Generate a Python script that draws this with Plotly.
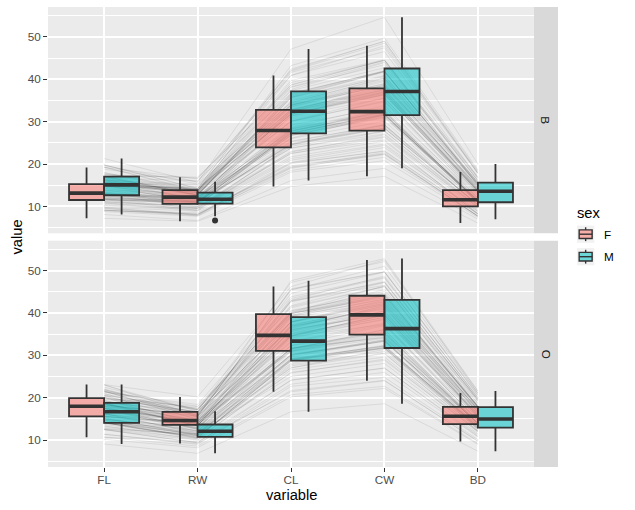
import numpy as np
import plotly.graph_objects as go

# ---------------- data (MASS::crabs, 200 crabs) ----------------
VARIABLES = ["FL", "RW", "CL", "CW", "BD"]
SPECIES_LEVELS = ["B", "O"]
SEX_LEVELS = ["F", "M"]

# row order: Blue males (50), Blue females (50), Orange males (50), Orange females (50)
SP = ["B"] * 100 + ["O"] * 100
SEX = (["M"] * 50 + ["F"] * 50) * 2

FL = [8.1, 8.8, 9.2, 9.6, 9.8, 10.8, 11.1, 11.6, 11.8, 11.8, 12.2, 12.3, 12.6, 12.8, 12.8, 12.9, 13.1, 13.1, 13.3, 13.9, 14.3, 14.6, 15.0, 15.0, 15.0, 15.2, 15.4, 15.7, 15.9, 16.1, 16.1, 16.2, 16.3, 16.4, 16.6, 16.8, 16.9, 17.1, 17.1, 17.2, 17.7, 17.9, 18.0, 18.8, 19.3, 19.3, 19.7, 19.8, 19.8, 21.3,
      7.2, 9.0, 9.1, 9.1, 9.5, 9.8, 10.1, 10.3, 10.4, 10.8, 11.0, 11.2, 11.5, 11.6, 11.6, 11.7, 11.9, 12.0, 12.0, 12.6, 12.8, 12.8, 12.8, 13.0, 13.1, 13.2, 13.4, 13.7, 13.9, 14.7, 14.9, 15.0, 15.0, 15.1, 15.1, 15.1, 15.2, 15.3, 15.4, 15.5, 15.6, 15.6, 15.7, 15.8, 16.2, 16.4, 16.7, 17.4, 17.5, 19.2,
      9.1, 10.2, 10.7, 11.4, 12.5, 12.5, 12.7, 13.2, 13.4, 13.7, 14.0, 14.1, 14.1, 14.1, 14.2, 14.2, 14.2, 14.6, 14.7, 15.1, 15.1, 15.4, 15.7, 16.2, 16.3, 17.1, 17.4, 17.5, 17.5, 17.8, 17.9, 18.0, 18.2, 18.4, 18.6, 18.6, 18.8, 18.8, 19.4, 19.4, 20.1, 20.6, 21.0, 21.5, 21.6, 21.6, 21.9, 22.1, 23.0, 23.1,
      10.7, 11.4, 12.5, 12.6, 12.9, 14.0, 14.0, 14.3, 14.7, 14.9, 15.0, 15.6, 15.6, 15.6, 15.7, 16.1, 16.1, 16.2, 16.7, 17.1, 17.5, 17.5, 17.5, 17.6, 18.0, 18.0, 18.3, 18.4, 18.4, 18.5, 18.6, 18.8, 18.9, 19.1, 19.1, 19.7, 19.9, 19.9, 20.0, 20.1, 20.3, 20.5, 20.6, 20.9, 21.3, 21.4, 21.7, 21.9, 22.5, 23.1]

RW = [6.7, 7.7, 7.8, 7.9, 8.0, 9.0, 9.9, 9.1, 9.6, 10.5, 10.8, 11.0, 10.0, 10.2, 10.9, 11.0, 10.6, 10.9, 11.1, 11.1, 11.6, 11.3, 10.9, 11.5, 11.9, 12.1, 11.8, 12.6, 12.7, 11.6, 12.8, 13.3, 12.7, 13.0, 13.5, 12.8, 13.2, 12.6, 12.7, 13.5, 13.6, 14.1, 13.7, 15.8, 13.5, 13.8, 15.3, 14.2, 14.3, 15.7,
      6.5, 8.5, 8.1, 8.2, 8.2, 8.9, 9.3, 9.5, 9.7, 9.5, 9.8, 10.0, 11.0, 11.0, 11.4, 10.6, 11.4, 10.7, 11.1, 12.2, 11.7, 12.2, 12.2, 11.4, 11.5, 12.2, 11.8, 12.5, 13.0, 12.5, 13.2, 13.8, 14.2, 13.3, 13.5, 13.8, 14.3, 14.2, 13.3, 13.8, 13.9, 14.7, 13.9, 15.0, 15.2, 14.0, 16.1, 16.9, 16.7, 16.5,
      6.9, 8.2, 8.6, 9.0, 9.4, 9.4, 10.4, 11.0, 10.1, 11.0, 11.5, 10.4, 10.5, 10.7, 10.6, 10.7, 11.3, 11.3, 11.1, 11.4, 11.5, 11.1, 12.2, 11.8, 11.6, 12.6, 12.8, 12.0, 12.7, 12.5, 12.9, 13.4, 13.7, 13.4, 13.4, 13.5, 13.4, 13.8, 14.1, 14.4, 13.7, 14.4, 15.0, 15.5, 15.4, 14.8, 15.7, 15.8, 16.8, 15.7,
      9.7, 9.2, 10.0, 11.5, 11.2, 11.9, 12.8, 12.2, 13.2, 13.0, 12.3, 13.5, 14.0, 14.1, 13.6, 13.6, 13.7, 14.0, 14.3, 14.5, 14.3, 14.4, 14.7, 14.0, 14.9, 16.3, 15.7, 15.5, 15.7, 14.6, 14.5, 15.2, 16.7, 16.0, 16.3, 16.7, 16.6, 17.9, 16.7, 17.2, 16.0, 17.5, 17.5, 16.5, 18.4, 18.0, 17.1, 17.2, 17.2, 20.2]

CL = [16.1, 18.1, 19.0, 20.1, 20.3, 23.0, 23.8, 24.5, 24.2, 25.2, 27.3, 26.8, 27.7, 27.2, 27.4, 26.8, 28.2, 28.3, 27.8, 29.2, 31.3, 31.9, 31.4, 32.4, 32.5, 32.3, 33.0, 35.8, 34.0, 33.8, 34.9, 36.0, 35.6, 35.7, 38.1, 36.2, 37.3, 36.4, 36.7, 37.6, 38.7, 39.7, 39.2, 42.1, 41.6, 40.9, 41.9, 43.2, 42.4, 47.1,
      14.7, 19.3, 18.5, 19.2, 19.6, 20.4, 20.9, 21.3, 21.7, 22.5, 22.5, 22.8, 24.7, 24.6, 23.7, 24.9, 26.0, 24.6, 25.4, 26.1, 27.1, 26.7, 27.9, 27.3, 27.6, 27.9, 28.4, 28.6, 30.0, 30.1, 30.1, 31.7, 32.8, 31.8, 31.9, 31.7, 33.9, 32.6, 32.4, 33.4, 32.8, 33.9, 33.6, 34.5, 34.5, 34.2, 36.6, 38.2, 38.6, 40.9,
      16.7, 20.2, 20.7, 22.7, 23.2, 24.2, 26.0, 27.1, 26.6, 27.5, 29.2, 28.9, 29.1, 28.7, 28.7, 27.8, 29.2, 29.9, 29.0, 30.2, 30.9, 30.2, 31.7, 32.3, 31.6, 35.0, 36.1, 34.4, 34.6, 36.0, 36.9, 36.7, 38.8, 37.9, 37.8, 36.9, 37.2, 39.2, 39.1, 39.8, 40.6, 42.8, 42.9, 45.5, 45.7, 43.4, 45.4, 44.6, 47.2, 47.6,
      21.4, 21.7, 24.1, 25.0, 25.8, 27.0, 28.8, 28.1, 29.6, 30.0, 30.1, 31.2, 31.6, 31.0, 31.0, 31.6, 31.4, 31.6, 32.3, 33.1, 34.5, 34.5, 33.3, 34.0, 34.7, 37.9, 35.1, 35.6, 36.5, 37.0, 34.7, 35.8, 36.3, 37.8, 37.9, 39.9, 39.4, 40.1, 40.4, 39.8, 39.4, 40.0, 41.5, 39.9, 43.8, 41.2, 41.7, 42.6, 43.0, 46.2]

CW = [19.0, 20.8, 22.4, 23.1, 23.0, 26.5, 27.1, 28.4, 27.8, 29.3, 31.6, 31.5, 31.7, 31.8, 31.5, 30.9, 32.3, 32.4, 32.3, 33.3, 35.5, 36.4, 36.4, 37.0, 37.2, 36.7, 37.5, 40.3, 38.9, 39.0, 40.7, 41.7, 40.9, 41.8, 43.4, 41.8, 42.7, 42.0, 41.9, 43.9, 44.5, 44.6, 44.4, 49.0, 47.4, 46.5, 48.5, 49.7, 48.9, 54.6,
      17.1, 22.7, 21.6, 22.2, 22.4, 23.9, 24.4, 24.7, 25.4, 26.3, 25.7, 26.9, 29.2, 28.5, 27.7, 28.5, 30.1, 28.9, 29.2, 31.6, 31.2, 31.1, 31.9, 31.8, 32.6, 32.1, 32.7, 33.8, 34.9, 34.7, 35.6, 36.9, 37.4, 36.3, 37.0, 36.6, 38.5, 38.3, 37.6, 38.7, 37.9, 39.5, 38.5, 40.3, 40.1, 39.8, 41.9, 44.1, 44.5, 47.9,
      18.6, 22.2, 22.7, 24.8, 26.0, 27.0, 28.8, 30.4, 29.6, 30.5, 32.2, 31.8, 31.6, 31.9, 31.7, 30.9, 32.2, 33.5, 32.1, 33.3, 34.0, 33.6, 34.2, 35.3, 34.2, 38.9, 39.5, 37.3, 38.4, 39.8, 40.9, 41.3, 42.7, 42.2, 41.9, 40.2, 41.1, 43.3, 43.2, 44.3, 44.5, 46.5, 47.2, 49.7, 49.7, 48.2, 51.0, 49.6, 52.1, 52.8,
      24.0, 24.1, 27.0, 28.1, 29.1, 31.4, 32.4, 31.8, 33.4, 33.7, 33.3, 35.1, 35.3, 34.5, 34.8, 36.0, 36.1, 35.6, 37.0, 37.2, 39.6, 39.0, 37.6, 38.6, 39.5, 43.0, 40.5, 40.0, 41.6, 42.0, 39.4, 40.5, 41.7, 42.3, 42.6, 43.6, 43.9, 46.4, 45.1, 44.1, 44.1, 45.5, 46.2, 44.7, 48.4, 46.2, 47.2, 47.4, 48.7, 52.5]

BD = [7.0, 7.4, 7.7, 8.2, 8.2, 9.8, 9.8, 10.4, 9.7, 10.3, 10.9, 11.4, 11.4, 10.9, 11.0, 11.4, 11.0, 11.2, 11.3, 12.1, 12.7, 13.7, 13.2, 13.4, 13.6, 13.6, 13.6, 14.5, 14.2, 14.4, 15.7, 15.4, 14.9, 15.2, 14.9, 14.9, 15.6, 15.1, 15.6, 16.1, 16.0, 16.8, 16.2, 17.8, 17.8, 16.8, 17.8, 18.6, 18.3, 20.0,
      6.1, 7.7, 7.7, 7.7, 7.8, 8.8, 8.4, 8.9, 8.3, 9.1, 8.2, 9.4, 10.1, 10.4, 10.0, 10.4, 10.9, 10.5, 11.0, 11.2, 11.9, 11.1, 11.5, 11.3, 11.1, 11.5, 11.7, 11.9, 13.1, 12.5, 12.0, 14.0, 14.0, 13.5, 13.8, 13.0, 14.7, 13.8, 13.8, 14.7, 13.4, 14.3, 14.1, 15.3, 13.9, 15.2, 15.4, 16.6, 17.0, 18.1,
      7.4, 9.0, 9.2, 10.1, 10.8, 11.2, 12.1, 12.2, 12.0, 12.2, 13.1, 13.5, 13.1, 13.3, 12.9, 12.7, 13.5, 12.8, 13.1, 14.0, 13.9, 13.5, 14.2, 14.7, 14.5, 15.7, 16.2, 15.3, 16.1, 16.7, 16.5, 17.1, 17.2, 17.7, 17.3, 17.0, 17.5, 17.9, 17.8, 17.9, 18.0, 19.6, 19.4, 20.9, 20.6, 20.1, 21.1, 20.5, 21.5, 21.6,
      9.8, 9.7, 10.9, 11.5, 11.9, 12.6, 12.7, 12.5, 12.9, 13.3, 14.0, 14.1, 13.8, 13.8, 13.8, 14.0, 13.9, 13.7, 14.7, 14.6, 15.6, 16.0, 14.6, 15.5, 15.7, 17.2, 16.1, 15.9, 16.4, 16.6, 15.0, 16.6, 15.3, 16.8, 17.2, 18.2, 17.9, 17.9, 17.7, 18.6, 18.0, 19.2, 19.2, 17.5, 20.0, 18.7, 19.6, 19.5, 19.8, 21.1]

# ---------------- styling ----------------
FONT = "Liberation Sans, Arial, Helvetica, sans-serif"
FILL = {"F": "rgba(248,118,109,0.55)", "M": "rgba(0,191,196,0.55)"}
EDGE = "#333333"
DODGE = 0.1875      # half of 0.75 / 2
BOXW = 0.375

W, H = 635, 510
ML, MR, MT, MB = 48, 101, 7, 43
PW, PH = W - ML - MR, H - MT - MB


def PX(px):
    return (px - ML) / PW


def PY(py):
    return (H - MB - py) / PH


data = np.array([FL, RW, CL, CW, BD]).T   # 200 x 5
sp_arr = np.array(SP)
sex_arr = np.array(SEX)
pos = np.arange(1, len(VARIABLES) + 1)

ymin, ymax = data.min(), data.max()
pad = (ymax - ymin) * 0.05
yrange = [ymin - pad, ymax + pad]


def stats(v):
    q1, med, q3 = np.percentile(v, [25, 50, 75])
    iqr = q3 - q1
    lo, hi = q1 - 1.5 * iqr, q3 + 1.5 * iqr
    inside = v[(v >= lo) & (v <= hi)]
    out = v[(v < lo) | (v > hi)]
    return q1, med, q3, inside.min(), inside.max(), out


fig = go.Figure()

panel_axes = {"B": ("x", "y", "x3", "y3"), "O": ("x2", "y2", "x4", "y4")}

for sp in SPECIES_LEVELS:
    bx, by, ox, oy = panel_axes[sp]
    sub = data[sp_arr == sp]
    # per-crab lines (drawn on base axes, below the boxes)
    lx, ly = [], []
    for row in sub:
        lx += list(pos) + [None]
        ly += list(row) + [None]
    fig.add_trace(go.Scatter(x=lx, y=ly, mode="lines", xaxis=bx, yaxis=by,
                             line=dict(color="rgba(0,0,0,0.16)", width=0.5),
                             showlegend=False, hoverinfo="skip"))
    for sx in SEX_LEVELS:
        g = data[(sp_arr == sp) & (sex_arr == sx)]
        off = -DODGE if sx == "F" else DODGE
        q1s, meds, q3s, los, his = [], [], [], [], []
        mx, my, outx, outy = [], [], [], []
        for j in range(len(VARIABLES)):
            q1, med, q3, lo, hi, out = stats(g[:, j])
            q1s.append(q1); meds.append(med); q3s.append(q3); los.append(lo); his.append(hi)
            mx += [pos[j] + off - BOXW / 2, pos[j] + off + BOXW / 2, None]
            my += [med, med, None]
            outx += [pos[j] + off] * len(out)
            outy += list(out)
        fig.add_trace(go.Box(x=list(pos + off), q1=q1s, median=meds, q3=q3s,
                             lowerfence=los, upperfence=his, width=BOXW,
                             xaxis=ox, yaxis=oy, fillcolor=FILL[sx],
                             line=dict(color=EDGE, width=1.8), whiskerwidth=0,
                             boxpoints=False, showlegend=False, hoverinfo="skip"))
        fig.add_trace(go.Scatter(x=mx, y=my, mode="lines", xaxis=ox, yaxis=oy,
                                 line=dict(color=EDGE, width=3.6),
                                 showlegend=False, hoverinfo="skip"))
        if outx:
            fig.add_trace(go.Scatter(x=outx, y=outy, mode="markers", xaxis=ox, yaxis=oy,
                                     marker=dict(color=EDGE, size=6),
                                     showlegend=False, hoverinfo="skip"))

xr = [0.4, len(VARIABLES) + 0.6]
dom_top = [1 - 226.3 / PH, 1]
dom_bot = [0, 226.3 / PH]

grid = dict(showgrid=True, gridcolor="white", gridwidth=1.9, zeroline=False,
            showline=False)
yax = dict(grid, range=yrange, tickvals=[10, 20, 30, 40, 50],
           ticks="outside", ticklen=4, tickwidth=1.3, tickcolor=EDGE,
           tickfont=dict(family=FONT, size=11.7, color="#4D4D4D"),
           minor=dict(tickvals=[5, 15, 25, 35, 45, 55], showgrid=True,
                      gridcolor="white", gridwidth=0.95, ticks=""))
xax = dict(grid, range=xr, tickvals=list(pos), ticktext=VARIABLES)

fig.update_layout(
    width=W, height=H, autosize=False,
    margin=dict(l=ML, r=MR, t=MT, b=MB, pad=0),
    paper_bgcolor="white", plot_bgcolor="#EBEBEB",
    showlegend=False, hovermode=False,
    font=dict(family=FONT, color="black"),
    xaxis=dict(xax, anchor="y", domain=[0, 1], showticklabels=False, ticks=""),
    yaxis=dict(yax, anchor="x", domain=dom_top),
    xaxis2=dict(xax, anchor="y2", domain=[0, 1], ticks="outside", ticklen=4,
                tickwidth=1.3, tickcolor=EDGE, ticklabelstandoff=-2,
                tickfont=dict(family=FONT, size=11.7, color="#4D4D4D")),
    yaxis2=dict(yax, anchor="x2", domain=dom_bot),
    xaxis3=dict(overlaying="x", range=xr, visible=False, showgrid=False, zeroline=False),
    yaxis3=dict(overlaying="y", range=yrange, visible=False, showgrid=False, zeroline=False),
    xaxis4=dict(overlaying="x2", range=xr, visible=False, showgrid=False, zeroline=False),
    yaxis4=dict(overlaying="y2", range=yrange, visible=False, showgrid=False, zeroline=False),
)

shapes, annos = [], []
# facet strips
for sp, dom in zip(SPECIES_LEVELS, [dom_top, dom_bot]):
    shapes.append(dict(type="rect", xref="paper", yref="paper", x0=1, x1=PX(558),
                       y0=dom[0], y1=dom[1], fillcolor="#D9D9D9", line=dict(width=0),
                       layer="below"))
    annos.append(dict(text=sp, xref="paper", yref="paper", x=PX(546), y=(dom[0] + dom[1]) / 2,
                      showarrow=False, textangle=90, xanchor="center", yanchor="middle",
                      font=dict(family=FONT, size=11.7, color="#1A1A1A")))

# axis titles
annos.append(dict(text="value", xref="paper", yref="paper", x=PX(16.5), y=PY(237),
                  showarrow=False, textangle=-90, xanchor="center", yanchor="middle",
                  font=dict(family=FONT, size=14.7, color="black")))
annos.append(dict(text="variable", xref="paper", yref="paper", x=0.5, y=PY(495),
                  showarrow=False, xanchor="center", yanchor="middle",
                  font=dict(family=FONT, size=14.7, color="black")))

# legend (ggplot-style boxplot keys)
annos.append(dict(text="sex", xref="paper", yref="paper", x=PX(575), y=PY(213),
                  showarrow=False, xanchor="left", yanchor="middle",
                  font=dict(family=FONT, size=14.7, color="black")))
KEY = 17.3
for sx, cy in zip(SEX_LEVELS, [234.2, 256.7]):
    k0, k1 = 577, 577 + KEY
    top, bot = cy - KEY / 2, cy + KEY / 2
    cx = (k0 + k1) / 2
    shapes.append(dict(type="rect", xref="paper", yref="paper", x0=PX(k0), x1=PX(k1),
                       y0=PY(bot), y1=PY(top), fillcolor="#F2F2F2", line=dict(width=0)))
    shapes.append(dict(type="line", xref="paper", yref="paper", x0=PX(cx), x1=PX(cx),
                       y0=PY(top + 0.1 * KEY), y1=PY(top + 0.25 * KEY),
                       line=dict(color=EDGE, width=1.4)))
    shapes.append(dict(type="line", xref="paper", yref="paper", x0=PX(cx), x1=PX(cx),
                       y0=PY(top + 0.75 * KEY), y1=PY(top + 0.9 * KEY),
                       line=dict(color=EDGE, width=1.4)))
    shapes.append(dict(type="rect", xref="paper", yref="paper",
                       x0=PX(k0 + 0.125 * KEY), x1=PX(k0 + 0.875 * KEY),
                       y0=PY(top + 0.75 * KEY), y1=PY(top + 0.25 * KEY),
                       fillcolor=FILL[sx], line=dict(color=EDGE, width=1.4)))
    shapes.append(dict(type="line", xref="paper", yref="paper",
                       x0=PX(k0 + 0.125 * KEY), x1=PX(k0 + 0.875 * KEY),
                       y0=PY(cy), y1=PY(cy), line=dict(color=EDGE, width=1.4)))
    annos.append(dict(text=sx, xref="paper", yref="paper", x=PX(602), y=PY(cy),
                      showarrow=False, xanchor="left", yanchor="middle",
                      font=dict(family=FONT, size=11.7, color="black")))

fig.update_layout(shapes=shapes, annotations=annos)
fig.write_html("out.html", config={"displayModeBar": False},
               post_script="document.body.style.margin='0';document.body.style.overflow='hidden';")
